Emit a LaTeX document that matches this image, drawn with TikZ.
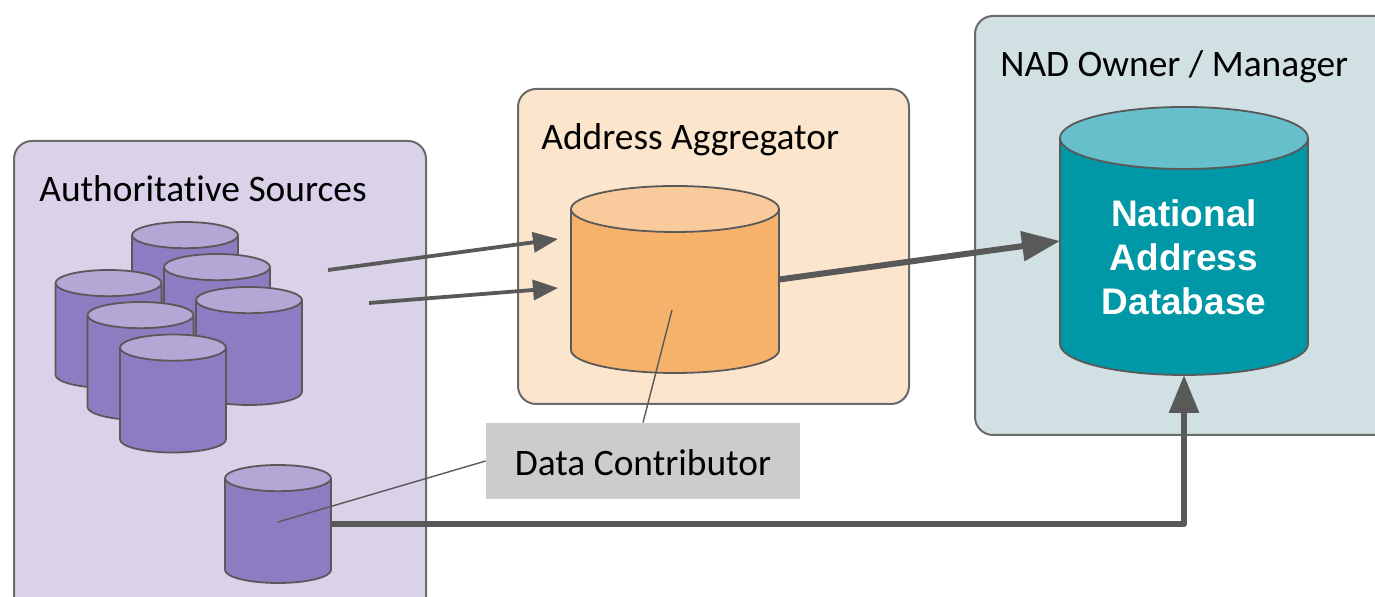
\documentclass[tikz,border=0pt]{standalone}
\usepackage{fontspec}
\setmainfont[Ligatures=CommonOff]{Carlito}
\newfontfamily\dbfont{Liberation Sans}
\usetikzlibrary{shapes.geometric}
\usetikzlibrary{arrows.meta}
\definecolor{edgegray}{HTML}{595959}
\definecolor{panelpurple}{HTML}{D9D2E9}
\definecolor{panelorange}{HTML}{FCE5CD}
\definecolor{panelteal}{HTML}{D0E0E3}
\tikzset{
panel/.style={draw=edgegray!90,line width=1pt,rounded corners=9pt},
panel label/.style={anchor=base west,inner sep=0pt,font=\fontsize{18.7}{22}\selectfont},
my db/.style={cylinder,shape border rotate=90,draw=edgegray,line width=0.9pt,
  cylinder uses custom fill,inner sep=5pt,outer sep=0pt,anchor=shape center},
src db/.style={my db,minimum width=53pt,minimum height=59pt,shape aspect=1.31,
  cylinder body fill=dbpurple,cylinder end fill=dbpurpletop},
hub db/.style={my db,minimum width=104pt,minimum height=93.5pt,shape aspect=2.3,
  cylinder body fill=dborange,cylinder end fill=dborangetop},
nad db/.style={my db,minimum width=124pt,minimum height=134pt,shape aspect=3.1,
  cylinder body fill=dbteal,cylinder end fill=dbtealtop},
feed/.style={draw=edgegray,line width=1.9pt,-{Triangle[length=12.5pt,width=10pt]}},
main feed/.style={draw=edgegray,line width=3pt,-{Triangle[length=19pt,width=14.5pt]}},
callout/.style={draw=edgegray,line width=0.7pt},
}
\definecolor{dbpurple}{HTML}{8E7CC3}
\definecolor{dbpurpletop}{HTML}{B4A7D6}
\definecolor{dborange}{HTML}{F6B26B}
\definecolor{dborangetop}{HTML}{F9CB9C}
\definecolor{dbteal}{HTML}{0097A7}
\definecolor{dbtealtop}{HTML}{65C0CB}
\begin{document}
\begin{tikzpicture}[x=0.5pt,y=-0.5pt]
\path[use as bounding box,clip] (0,0) rectangle (1375,597);
% panels
\draw[panel,fill=panelpurple] (14,141) rectangle (426,630);
\draw[panel,fill=panelorange] (518,89) rectangle (909,404);
\draw[panel,fill=panelteal] (975,16) rectangle (1420,435);
\node[panel label] (sourceslabel) at (39,202) {Authoritative Sources};
\node[panel label] (hublabel) at (541,150) {Address Aggregator};
\node[panel label] (nadlabel) at (1000,77) {NAD Owner / Manager};
% databases
\foreach \name/\px/\py in {back/185/281,midr/217/313,left/108.5/329,right/249/346,midl/140.5/361,front/173/393.5}
  \node[src db] (\name) at (\px,\py) {};
\node[src db] (single) at (278,524) {};
\node[hub db] (hub) at (675,279.5) {};
\node[nad db] (nad) at (1184,241) {};
\node[font=\dbfont\bfseries\fontsize{18.5}{22}\selectfont,text=white,align=center,inner sep=0pt] (nadtext) at (1184,257) {National\\Address\\Database};
% contributor box
\coordinate (singlemark) at (278,522);
\coordinate (hubmark) at (672,310);
\node[fill=black!20,minimum width=157pt,minimum height=38pt,inner sep=0pt,font=\fontsize{18.7}{22}\selectfont] (contrib) at (643,461) {\raisebox{-1pt}[\height][\depth]{Data Contributor}};
\draw[callout] (contrib.west) -- (singlemark);
\draw[callout] (contrib.north) -- (hubmark);
% arrows
\coordinate (feedastart) at (328,270);
\coordinate (feedaend) at (558,239);
\coordinate (feedbstart) at (369,303);
\coordinate (feedbend) at (558,288);
\draw[feed] (feedastart) -- (feedaend);
\draw[feed] (feedbstart) -- (feedbend);
\draw[main feed] (hub.shape center -| hub.east) -- (nad.shape center -| nad.west);
\draw[main feed,line join=round] (single.shape center -| single.east) -| (nad.south);
\end{tikzpicture}
\end{document}
